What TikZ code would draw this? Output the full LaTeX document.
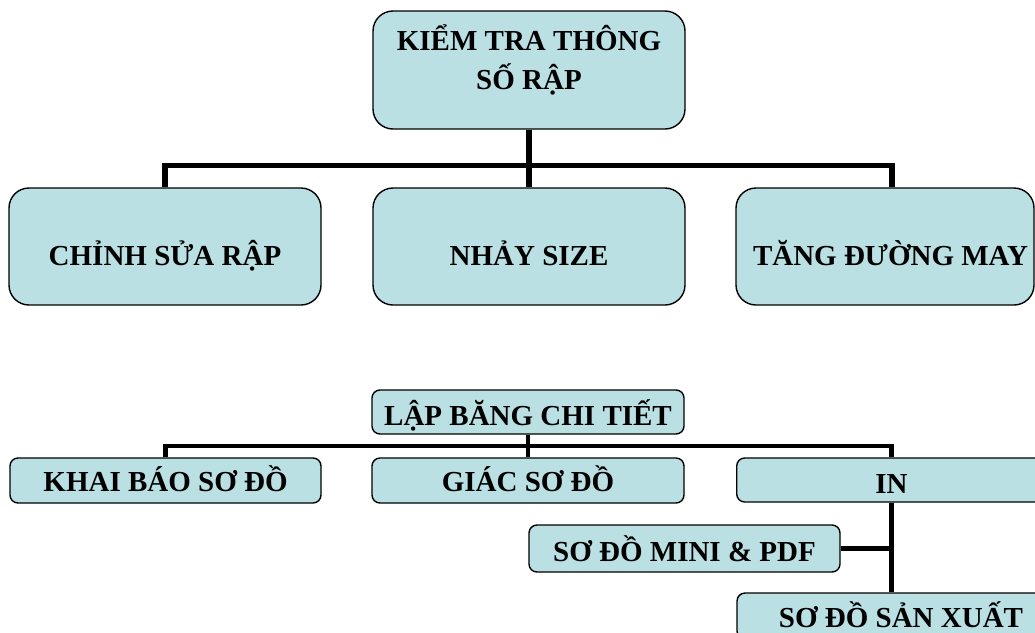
\documentclass[tikz,border=0pt]{standalone}
\usepackage{fontspec}
\setmainfont{Liberation Serif}
\definecolor{boxfill}{RGB}{186,224,228}
\tikzset{
  box/.style={draw=black, line width=1.4pt, fill=boxfill, inner sep=0pt,
    font=\fontsize{29}{39}\selectfont\bfseries, text depth=0pt},
  bigbox/.style={box, rounded corners=20pt, minimum width=312pt, minimum height=117pt},
  smallbox/.style={box, rounded corners=8pt, minimum width=311pt, minimum height=45pt},
  link/.style={line width=5.5pt},
  sublink/.style={line width=4.5pt}
}
\begin{document}
\begin{tikzpicture}[x=1pt,y=-1pt]
\useasboundingbox (0,0) rectangle (1035,632);
\clip (0,0) rectangle (1035,632);

% upper chart
\node[bigbox, minimum height=118pt, text height=0pt] (top) at (529,70)
  {\raisebox{20pt}{\begin{tabular}[t]{@{}c@{}}KIỂM TRA THÔNG\\SỐ RẬP\end{tabular}}};
\node[bigbox, text height=37pt] (fix) at (165,246.5) {CHỈNH SỬA RẬP};
\node[bigbox, text height=37pt] (grade) at (529,246.5) {NHẢY SIZE};
\node[bigbox, minimum width=298pt, text height=37pt] (seam) at (885,246.5)
  {\hspace*{11pt}TĂNG ĐƯỜNG MAY};

\coordinate (bar) at (529,165.5);
\draw[link] (top.south) -- (grade.north);
\draw[link] (fix.north) |- (bar) -| ([xshift=7pt]seam.north);

% lower chart
\node[smallbox, minimum width=312pt, minimum height=44pt, text height=26pt] (lap) at (528,412) {LẬP BĂNG CHI TIẾT};
\node[smallbox, text height=22pt] (khai) at (165.5,480.5) {KHAI BÁO SƠ ĐỒ};
\node[smallbox, minimum width=312pt, text height=22pt] (giac) at (528,480.5) {GIÁC SƠ ĐỒ};
\node[smallbox, minimum width=309.6pt, minimum height=44pt, text height=26.6pt] (print) at (891.5,480) {IN};
\node[smallbox, minimum height=47pt, text height=26.8pt] (mini) at (684.5,548.5) {SƠ ĐỒ MINI \& PDF};
\node[smallbox, minimum width=328pt, minimum height=46pt, text height=22pt] (prod) at (901,616) {SƠ ĐỒ SẢN XUẤT};

\coordinate (bar2) at (528,446);
\draw[sublink] (lap.south) -- (giac.north);
\draw[sublink] (khai.north) |- (bar2) -| (print.north);
\draw[sublink] (print.south) -- (print.south |- prod.north);
\draw[sublink] (mini.east) -- (mini.east -| print.south);
\end{tikzpicture}
\end{document}
